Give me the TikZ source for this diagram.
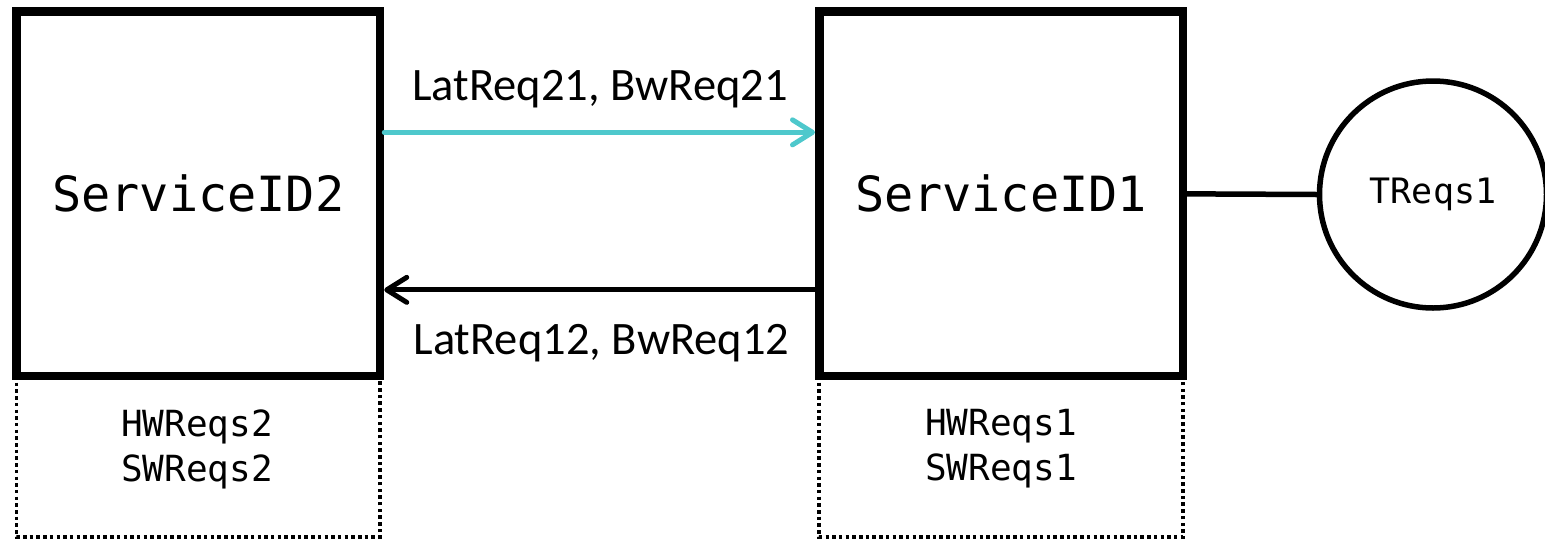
\documentclass[tikz,border=0pt]{standalone}
\usepackage{fontspec}
\setmainfont{Carlito}
\newfontfamily\codefont{DejaVu Sans Mono}
\usetikzlibrary{arrows.meta}
\definecolor{flowcyan}{RGB}{78,200,204}
\tikzset{
  service/.style={draw=black, line width=8.5pt, minimum width=363.5pt,
    minimum height=364.3pt, inner sep=0pt, font=\codefont\fontsize{48.5}{56}\selectfont},
  reqbox/.style={draw=black, line width=3.5pt, dash pattern=on 3.5pt off 3.2pt},
  reqtext/.style={align=center, inner sep=0pt, font=\codefont\fontsize{36}{45}\selectfont},
  flowlabel/.style={anchor=base, inner sep=0pt, font=\fontsize{46.5}{52}\selectfont},
  flow/.style={line width=5pt, line cap=round,
    -{Straight Barb[length=20pt, width=25pt, line cap=round, line join=round]}},
  treq/.style={circle, draw=black, line width=5.5pt, minimum size=227pt, inner sep=0pt,
    font=\codefont\fontsize{35}{42}\selectfont}
}
\begin{document}
\begin{tikzpicture}[x=1pt, y=-1pt]
  \useasboundingbox (0,0) rectangle (1545,539);
  \clip (0,0) rectangle (1545,539);

  % requirement panels under each service
  \draw[reqbox] (16.5,376) -- (16.5,537) -- (380,537) -- (380,376);
  \draw[reqbox] (819,376) -- (819,537) -- (1183,537) -- (1183,376);
  \node[reqtext] (req2) at (197,449) {HWReqs2\\SWReqs2};
  \node[reqtext] (req1) at (1001,449) {HWReqs1\\SWReqs1};

  % services
  \node[service] (s2) at (198.25,193.85) {ServiceID2};
  \node[service] (s1) at (1001,193.85) {ServiceID1};

  % tenant requirements
  \node[treq] (t1) at (1433,194.5) {TReqs1};
  \draw[line width=5.5pt] (s1.east) -- (t1.west);

  % latency / bandwidth requests
  \coordinate (a21s) at ([yshift=61.5pt]s2.east);
  \coordinate (a21e) at ([yshift=61.5pt]s1.west);
  \draw[flow, flowcyan] (a21s) -- (a21e);
  \coordinate (a12s) at ([yshift=-96pt]s1.west);
  \coordinate (a12e) at ([yshift=-96pt]s2.east);
  \draw[flow, black] (a12s) -- (a12e);

  \node[flowlabel] (l21) at (600,100) {LatReq21, BwReq21};
  \node[flowlabel] (l12) at (601.5,354) {LatReq12, BwReq12};
\end{tikzpicture}
\end{document}
